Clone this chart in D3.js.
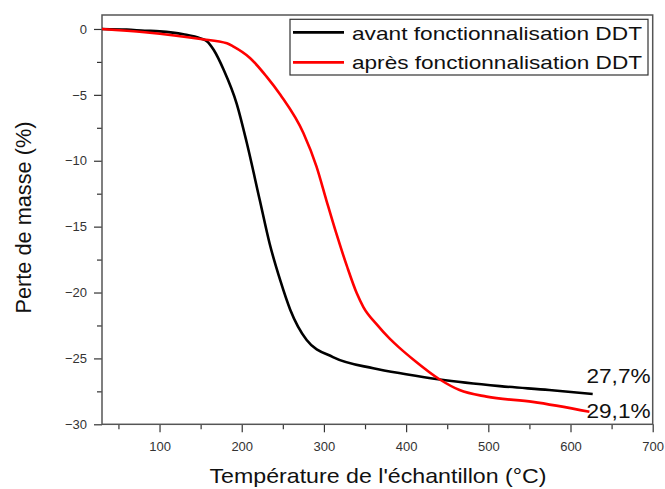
<!DOCTYPE html>
<html><head><meta charset="utf-8">
<script src="https://cdn.jsdelivr.net/npm/d3@7"></script>
<style>
html,body{margin:0;padding:0;background:#fff;}
text{font-family:"Liberation Sans",Arial,sans-serif;}
</style></head>
<body>
<svg id="chart" width="665" height="489"></svg>
<script>
// Data
const seriesNames = ["avant fonctionnalisation DDT", "après fonctionnalisation DDT"];
const seriesColors = ["#000000", "#ff0000"];
const avantT = [30, 60, 82, 100, 129, 150, 158, 166, 178, 194, 206, 222, 234, 247, 259, 279, 311, 360, 400, 441, 514, 574, 627];
const avantV = [0, -0.05, -0.13, -0.18, -0.4, -0.72, -0.95, -1.6, -3.1, -5.7, -8.6, -13, -16.3, -19.1, -21.3, -23.6, -24.9, -25.75, -26.2, -26.6, -27.1, -27.4, -27.7];
const apresT = [30, 82, 150, 182, 190, 210, 230, 247, 275, 291, 303, 315, 328, 340, 348, 364, 380, 392, 409, 441, 465, 498, 554, 623];
const apresV = [0, -0.25, -0.76, -1.09, -1.34, -2.2, -3.6, -5.0, -7.9, -10.45, -13, -15.5, -18, -20.06, -21.1, -22.4, -23.5, -24.2, -25.1, -26.6, -27.4, -27.9, -28.3, -29.05];
const xTicks = [100, 200, 300, 400, 500, 600, 700];
const xMinor = [50, 150, 250, 350, 450, 550, 650];
const yTicks = [0, -5, -10, -15, -20, -25, -30];
const yMinor = [-2.5, -7.5, -12.5, -17.5, -22.5, -27.5];
const endLabels = ["27,7%", "29,1%"];
const xTitle = "Température de l'échantillon (°C)";
const yTitle = "Perte de masse (%)";

const svg = d3.select("#chart");
const L = 102, R = 652.7, T = 15, B = 424.3;
const x = d3.scaleLinear().domain([30, 700]).range([L, R]);
const y = d3.scaleLinear().domain([-30, 1.06]).range([B, T]);

// axes
const gx = svg.append("g").attr("transform", `translate(0,${B})`)
  .call(d3.axisBottom(x).tickValues(xTicks).tickSize(8).tickPadding(9).tickSizeOuter(0));
const gxm = svg.append("g").attr("transform", `translate(0,${B})`)
  .call(d3.axisBottom(x).tickValues(xMinor).tickSize(5).tickFormat("").tickSizeOuter(0));
const gy = svg.append("g").attr("transform", `translate(${L},0)`)
  .call(d3.axisLeft(y).tickValues(yTicks).tickSize(8).tickPadding(7).tickSizeOuter(0));
const gym = svg.append("g").attr("transform", `translate(${L},0)`)
  .call(d3.axisLeft(y).tickValues(yMinor).tickSize(5).tickFormat("").tickSizeOuter(0));
[gx, gxm, gy, gym].forEach(g => {
  g.select(".domain").remove();
  g.selectAll(".tick line").attr("stroke", "#333").attr("stroke-width", 1.2);
  g.selectAll(".tick text").attr("fill", "#333").style("font-size", "13px")
   .style("font-family", '"Liberation Sans", Arial, sans-serif');
});

// frame
svg.append("rect").attr("x", L).attr("y", T).attr("width", R - L).attr("height", B - T)
  .attr("fill", "none").attr("stroke", "#555").attr("stroke-width", 1.5);

// lines
const line = d3.line().x(d => x(d[0])).y(d => y(d[1])).curve(d3.curveMonotoneX);
const avant = avantT.map((t, i) => [t, avantV[i]]);
const apres = apresT.map((t, i) => [t, apresV[i]]);
svg.append("path").datum(avant).attr("d", line).attr("fill", "none")
  .attr("stroke", seriesColors[0]).attr("stroke-width", 2.6);
svg.append("path").datum(apres).attr("d", line).attr("fill", "none")
  .attr("stroke", seriesColors[1]).attr("stroke-width", 2.6);

// end labels
svg.append("text").attr("x", 586.5).attr("y", 383.3).text(endLabels[0])
  .style("font-size", "21px").attr("textLength", 64).attr("lengthAdjust", "spacingAndGlyphs").attr("fill", "#111");
svg.append("text").attr("x", 586.5).attr("y", 418.3).text(endLabels[1])
  .style("font-size", "21px").attr("textLength", 64).attr("lengthAdjust", "spacingAndGlyphs").attr("fill", "#111");

// legend
svg.append("rect").attr("x", 290).attr("y", 19.3).attr("width", 358).attr("height", 55.7)
  .attr("fill", "#fff").attr("stroke", "#333").attr("stroke-width", 1.2);
const ly = [32.3, 62.3], lt = [40, 68.6];
seriesNames.forEach((n, i) => {
  svg.append("line").attr("x1", 293).attr("x2", 344).attr("y1", ly[i]).attr("y2", ly[i])
    .attr("stroke", seriesColors[i]).attr("stroke-width", 2.8);
  svg.append("text").attr("x", 352).attr("y", lt[i]).text(n).style("font-size", "19px")
    .attr("textLength", 290).attr("lengthAdjust", "spacingAndGlyphs").attr("fill", "#111");
});

// axis titles
svg.append("text").attr("x", 378).attr("y", 483.3).attr("text-anchor", "middle")
  .text(xTitle).style("font-size", "21px").attr("textLength", 337).attr("lengthAdjust", "spacingAndGlyphs").attr("fill", "#111");
svg.append("text").attr("transform", "translate(31,217.5) rotate(-90)").attr("text-anchor", "middle")
  .text(yTitle).style("font-size", "21.5px").attr("textLength", 192).attr("lengthAdjust", "spacingAndGlyphs").attr("fill", "#111");
</script>
</body></html>
